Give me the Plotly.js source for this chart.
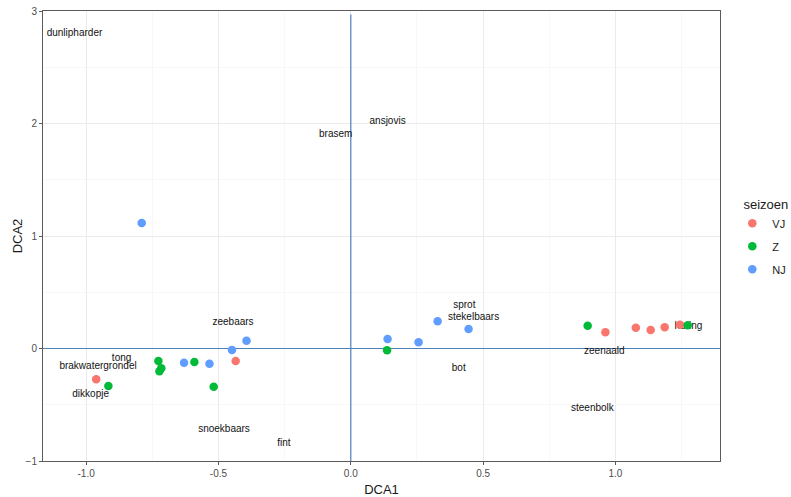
<!DOCTYPE html>
<html>
<head>
<meta charset="utf-8">
<script src="https://cdn.plot.ly/plotly-3.0.1.min.js"></script>
<style>html,body{margin:0;padding:0;background:#fff;}#chart{width:791px;height:497px;}</style>
</head>
<body>
<div id="chart"></div>
<script>
// Sample scores per season
const vjX = [-0.962, -0.435, 0.962, 1.077, 1.133, 1.186, 1.244];
const vjY = [-0.274, -0.111, 0.144, 0.185, 0.164, 0.188, 0.211];
const zX  = [-0.916, -0.727, -0.716, -0.723, -0.591, -0.518, 0.137, 0.895, 1.273];
const zY  = [-0.333, -0.111, -0.176, -0.203, -0.120, -0.339, -0.016, 0.203, 0.206];
const njX = [-0.790, -0.630, -0.534, -0.449, -0.394, 0.139, 0.256, 0.328, 0.445];
const njY = [1.115, -0.126, -0.135, -0.013, 0.069, 0.084, 0.055, 0.242, 0.173];

// Species scores
const species = ["dunlipharder","brasem","ansjovis","zeebaars","tong","brakwatergrondel","dikkopje",
                 "snoekbaars","fint","sprot","stekelbaars","bot","zeenaald","haring","steenbolk"];
const spX = [-1.044, -0.057, 0.139, -0.445, -0.866, -0.955, -0.983, -0.479, -0.253, 0.429, 0.464, 0.408, 0.958, 1.276, 0.913];
const spY = [2.80, 1.905, 2.02, 0.229, -0.09, -0.161, -0.407, -0.718, -0.842, 0.38, 0.274, -0.179, -0.031, 0.194, -0.535];

const seasons = ["VJ", "Z", "NJ"];
const colors = ["#F8766D", "#00BA38", "#619CFF"];

const font = "Liberation Sans, Arial, sans-serif";

const traces = [
  {x: spX, y: spY, text: species, mode: "text", type: "scatter", showlegend: false,
   textposition: "middle center", textfont: {family: font, size: 10, color: "#111"}, hoverinfo: "text"}
];
const xs = [vjX, zX, njX], ys = [vjY, zY, njY];
seasons.forEach((s, i) => {
  traces.push({x: xs[i], y: ys[i], name: s, legendgroup: s, mode: "markers", type: "scatter",
    marker: {color: colors[i], size: 8.5, line: {width: 0}}});
});

const layout = {
  width: 791, height: 497,
  margin: {l: 43, r: 71, t: 11, b: 36, pad: 0, autoexpand: false},
  paper_bgcolor: "#fff", plot_bgcolor: "#fff",
  font: {family: font, color: "#4D4D4D"},
  xaxis: {
    range: [-1.163, 1.395], tickvals: [-1, -0.5, 0, 0.5, 1], ticktext: ["-1.0","-0.5","0.0","0.5","1.0"],
    showgrid: true, gridcolor: "#EBEBEB", gridwidth: 1,
    minor: {tickvals: [-0.75, -0.25, 0.25, 0.75, 1.25], showgrid: true, gridcolor: "#F4F4F4", gridwidth: 0.6, ticks: ""},
    zeroline: false, showline: true, linecolor: "#5a5a5a", linewidth: 1, mirror: true,
    ticks: "outside", ticklen: 3, tickcolor: "#5a5a5a", tickwidth: 1,
    tickfont: {family: font, size: 10, color: "#4D4D4D"},
    title: {text: "DCA1", font: {family: font, size: 13, color: "#1a1a1a"}, standoff: 6}
  },
  yaxis: {
    range: [-1, 3], tickvals: [-1, 0, 1, 2, 3],
    showgrid: true, gridcolor: "#EBEBEB", gridwidth: 1,
    minor: {tickvals: [-0.5, 0.5, 1.5, 2.5], showgrid: true, gridcolor: "#F4F4F4", gridwidth: 0.6, ticks: ""},
    zeroline: true, zerolinecolor: "#4F81BD", zerolinewidth: 1.2,
    showline: true, linecolor: "#5a5a5a", linewidth: 1, mirror: true,
    ticks: "outside", ticklen: 3, tickcolor: "#5a5a5a", tickwidth: 1,
    tickfont: {family: font, size: 10, color: "#4D4D4D"},
    title: {text: "DCA2", font: {family: font, size: 13, color: "#1a1a1a"}, standoff: 0}
  },
  shapes: [
    {type: "line", xref: "x", x0: 0, x1: 0, yref: "y", y0: -1, y1: 2.97, line: {color: "#4F81BD", width: 1.2}, layer: "between"}
  ],
  legend: {
    x: 1.03, xref: "paper", xanchor: "left",
    y: 0.598, yanchor: "top",
    indentation: -8,
    title: {text: "seizoen", side: "top center", font: {family: font, size: 13, color: "#1a1a1a"}},
    font: {family: font, size: 11, color: "#1a1a1a"},
    traceorder: "grouped", tracegroupgap: 4,
    bgcolor: "rgba(0,0,0,0)", borderwidth: 0
  },
  showlegend: true
};

Plotly.newPlot("chart", traces, layout, {staticPlot: true, displayModeBar: false});
</script>
</body>
</html>
